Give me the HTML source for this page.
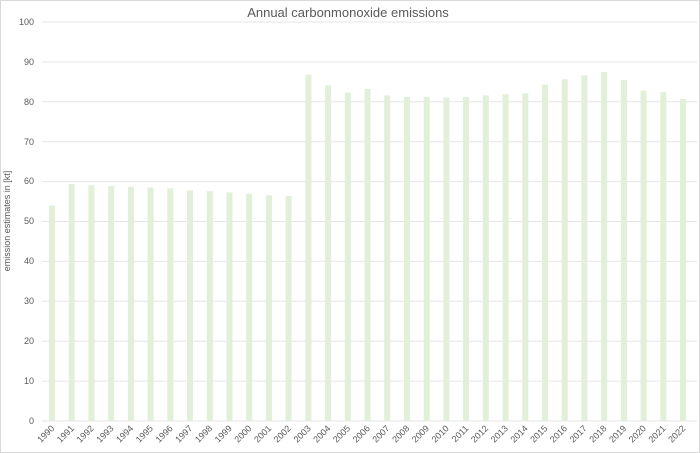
<!DOCTYPE html>
<html><head><meta charset="utf-8"><style>
html,body{margin:0;padding:0;background:#fff;}
svg{display:block;font-family:"Liberation Sans",sans-serif;}
</style></head><body>
<svg width="700" height="453" viewBox="0 0 700 453">
<rect x="0.5" y="0.5" width="699" height="452" fill="#fff" stroke="#d9d9d9"/>
<text x="348" y="17" text-anchor="middle" font-size="13" fill="#595959">Annual carbonmonoxide emissions</text>
<g stroke="#e6e6e6" stroke-width="1">
<line x1="42" x2="697" y1="421" y2="421"/><line x1="42" x2="697" y1="381.1" y2="381.1"/><line x1="42" x2="697" y1="341.2" y2="341.2"/><line x1="42" x2="697" y1="301.3" y2="301.3"/><line x1="42" x2="697" y1="261.4" y2="261.4"/><line x1="42" x2="697" y1="221.5" y2="221.5"/><line x1="42" x2="697" y1="181.6" y2="181.6"/><line x1="42" x2="697" y1="141.7" y2="141.7"/><line x1="42" x2="697" y1="101.8" y2="101.8"/><line x1="42" x2="697" y1="61.9" y2="61.9"/><line x1="42" x2="697" y1="22" y2="22"/>
</g>
<g font-size="9" fill="#595959" text-anchor="end">
<text x="34" y="424">0</text><text x="34" y="384">10</text><text x="34" y="344">20</text><text x="34" y="304">30</text><text x="34" y="264">40</text><text x="34" y="224">50</text><text x="34" y="184">60</text><text x="34" y="145">70</text><text x="34" y="105">80</text><text x="34" y="65">90</text><text x="34" y="25">100</text>
</g>
<text transform="translate(10,221) rotate(-90)" text-anchor="middle" font-size="9" fill="#595959">emission estimates in [kt]</text>
<g fill="#e2efd9">
<rect x="49" y="205.5" width="6" height="215.5"/><rect x="68.7" y="184" width="6" height="237"/><rect x="88.4" y="185.2" width="6" height="235.8"/><rect x="108.2" y="186" width="6" height="235"/><rect x="127.9" y="186.8" width="6" height="234.2"/><rect x="147.6" y="187.6" width="6" height="233.4"/><rect x="167.3" y="188.4" width="6" height="232.6"/><rect x="187" y="190.4" width="6" height="230.6"/><rect x="206.8" y="191.2" width="6" height="229.8"/><rect x="226.5" y="192.4" width="6" height="228.6"/><rect x="246.2" y="193.6" width="6" height="227.4"/><rect x="265.9" y="195.2" width="6" height="225.8"/><rect x="285.6" y="196" width="6" height="225"/><rect x="305.4" y="74.7" width="6" height="346.3"/><rect x="325.1" y="85.4" width="6" height="335.6"/><rect x="344.8" y="92.6" width="6" height="328.4"/><rect x="364.5" y="89" width="6" height="332"/><rect x="384.2" y="95.4" width="6" height="325.6"/><rect x="404" y="97" width="6" height="324"/><rect x="423.7" y="97" width="6" height="324"/><rect x="443.4" y="97.4" width="6" height="323.6"/><rect x="463.1" y="97" width="6" height="324"/><rect x="482.8" y="95.4" width="6" height="325.6"/><rect x="502.6" y="94.2" width="6" height="326.8"/><rect x="522.3" y="93.4" width="6" height="327.6"/><rect x="542" y="84.6" width="6" height="336.4"/><rect x="561.7" y="79.1" width="6" height="341.9"/><rect x="581.4" y="75.5" width="6" height="345.5"/><rect x="601.2" y="71.9" width="6" height="349.1"/><rect x="620.9" y="79.9" width="6" height="341.1"/><rect x="640.6" y="90.6" width="6" height="330.4"/><rect x="660.3" y="92.2" width="6" height="328.8"/><rect x="680" y="99" width="6" height="322"/>
</g>
<g font-size="9" fill="#595959" text-anchor="end">
<text transform="translate(55,429) rotate(-45)">1990</text><text transform="translate(74.7,429) rotate(-45)">1991</text><text transform="translate(94.4,429) rotate(-45)">1992</text><text transform="translate(114.2,429) rotate(-45)">1993</text><text transform="translate(133.9,429) rotate(-45)">1994</text><text transform="translate(153.6,429) rotate(-45)">1995</text><text transform="translate(173.3,429) rotate(-45)">1996</text><text transform="translate(193,429) rotate(-45)">1997</text><text transform="translate(212.8,429) rotate(-45)">1998</text><text transform="translate(232.5,429) rotate(-45)">1999</text><text transform="translate(252.2,429) rotate(-45)">2000</text><text transform="translate(271.9,429) rotate(-45)">2001</text><text transform="translate(291.6,429) rotate(-45)">2002</text><text transform="translate(311.4,429) rotate(-45)">2003</text><text transform="translate(331.1,429) rotate(-45)">2004</text><text transform="translate(350.8,429) rotate(-45)">2005</text><text transform="translate(370.5,429) rotate(-45)">2006</text><text transform="translate(390.2,429) rotate(-45)">2007</text><text transform="translate(410,429) rotate(-45)">2008</text><text transform="translate(429.7,429) rotate(-45)">2009</text><text transform="translate(449.4,429) rotate(-45)">2010</text><text transform="translate(469.1,429) rotate(-45)">2011</text><text transform="translate(488.8,429) rotate(-45)">2012</text><text transform="translate(508.6,429) rotate(-45)">2013</text><text transform="translate(528.3,429) rotate(-45)">2014</text><text transform="translate(548,429) rotate(-45)">2015</text><text transform="translate(567.7,429) rotate(-45)">2016</text><text transform="translate(587.4,429) rotate(-45)">2017</text><text transform="translate(607.2,429) rotate(-45)">2018</text><text transform="translate(626.9,429) rotate(-45)">2019</text><text transform="translate(646.6,429) rotate(-45)">2020</text><text transform="translate(666.3,429) rotate(-45)">2021</text><text transform="translate(686,429) rotate(-45)">2022</text>
</g>
</svg>
</body></html>
